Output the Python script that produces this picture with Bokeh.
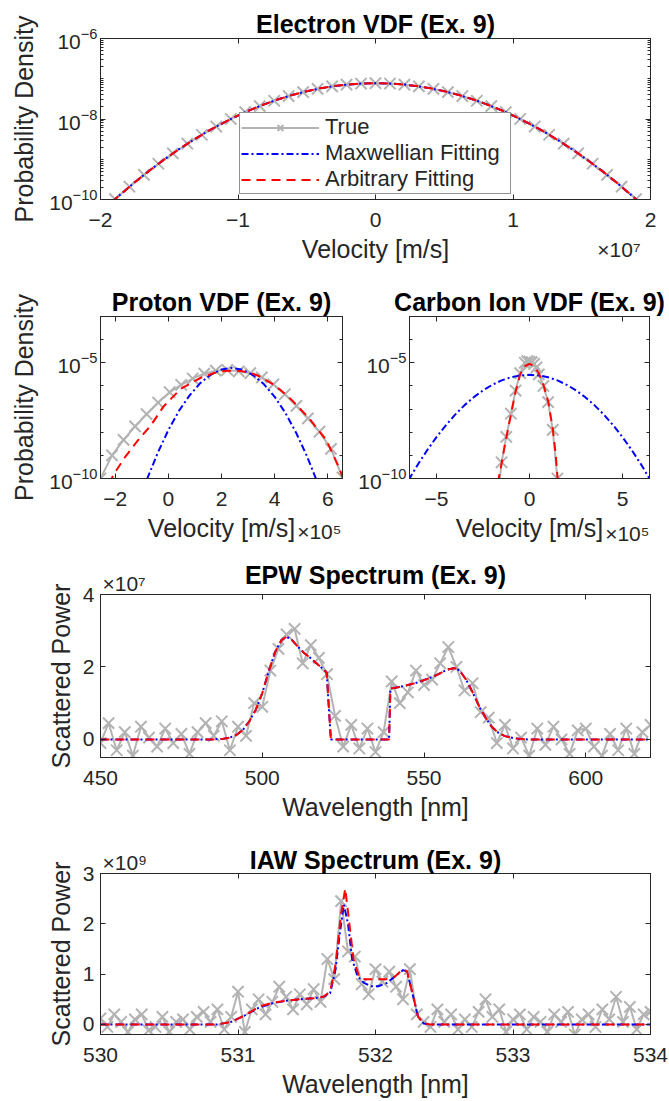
from bokeh.plotting import figure
from bokeh.layouts import column, row
from bokeh.models import (Range1d, LinearAxis, LogAxis, FixedTicker, Legend, LegendItem,
                          Title, CustomJSTickFormatter)
from bokeh.embed import file_html
from bokeh.resources import INLINE

FONT = "Liberation Sans"
INK = "#262626"
GRAY = "#B3B3B3"
BLUE = "#0000FF"
RED = "#FF0000"

# ---------------- data (velocities / powers in units of the axis multiplier) ----------------
electron_true_v = [-2.0, -1.8947, -1.7895, -1.6842, -1.5789, -1.4737, -1.3684, -1.2632, -1.1579,
                   -1.0526, -0.9474, -0.8421, -0.7368, -0.6316, -0.5263, -0.4211, -0.3158, -0.2105,
                   -0.1053, 0.0, 0.1053, 0.2105, 0.3158, 0.4211, 0.5263, 0.6316, 0.7368, 0.8421,
                   0.9474, 1.0526, 1.1579, 1.2632, 1.3684, 1.4737, 1.5789, 1.6842, 1.7895, 1.8947, 2.0]
electron_true_f = [4.76e-11, 1.02e-10, 2.08e-10, 4.09e-10, 7.73e-10, 1.40e-9, 2.43e-9, 4.06e-9,
                   6.50e-9, 1.00e-8, 1.48e-8, 2.09e-8, 2.84e-8, 3.72e-8, 4.66e-8, 5.60e-8, 6.46e-8,
                   7.14e-8, 7.60e-8, 7.76e-8, 7.60e-8, 7.14e-8, 6.46e-8, 5.60e-8, 4.66e-8, 3.72e-8,
                   2.84e-8, 2.09e-8, 1.48e-8, 1.00e-8, 6.50e-9, 4.06e-9, 2.43e-9, 1.40e-9, 7.73e-10,
                   4.09e-10, 2.08e-10, 1.02e-10, 4.76e-11]
electron_fit_v = [-2.0, -1.9, -1.8, -1.7, -1.6, -1.5, -1.4, -1.3, -1.2, -1.1, -1.0, -0.9, -0.8,
                  -0.7, -0.6, -0.5, -0.4, -0.3, -0.2, -0.1, 0.0, 0.1, 0.2, 0.3, 0.4, 0.5, 0.6, 0.7,
                  0.8, 0.9, 1.0, 1.1, 1.2, 1.3, 1.4, 1.5, 1.6, 1.7, 1.8, 1.9, 2.0]
electron_max_f = [4.76e-11, 9.79e-11, 1.94e-10, 3.71e-10, 6.82e-10, 1.21e-9, 2.07e-9, 3.41e-9,
                  5.42e-9, 8.28e-9, 1.22e-8, 1.74e-8, 2.38e-8, 3.14e-8, 3.99e-8, 4.89e-8, 5.78e-8,
                  6.58e-8, 7.21e-8, 7.62e-8, 7.76e-8, 7.62e-8, 7.21e-8, 6.58e-8, 5.78e-8, 4.89e-8,
                  3.99e-8, 3.14e-8, 2.38e-8, 1.74e-8, 1.22e-8, 8.28e-9, 5.42e-9, 3.41e-9, 2.07e-9,
                  1.21e-9, 6.82e-10, 3.71e-10, 1.94e-10, 9.79e-11, 4.76e-11]
electron_arb_f = [4.76e-11, 9.79e-11, 1.94e-10, 3.71e-10, 6.82e-10, 1.21e-9, 2.07e-9, 3.41e-9,
                  5.42e-9, 8.28e-9, 1.22e-8, 1.74e-8, 2.38e-8, 3.14e-8, 3.99e-8, 4.89e-8, 5.78e-8,
                  6.58e-8, 7.21e-8, 7.62e-8, 7.76e-8, 7.62e-8, 7.21e-8, 6.58e-8, 5.78e-8, 4.89e-8,
                  3.99e-8, 3.14e-8, 2.38e-8, 1.74e-8, 1.22e-8, 8.28e-9, 5.42e-9, 3.41e-9, 2.07e-9,
                  1.21e-9, 6.82e-10, 3.71e-10, 1.94e-10, 9.79e-11, 4.76e-11]

proton_true_v = [-2.55, -2.117, -1.683, -1.25, -0.817, -0.383, 0.05, 0.483, 0.917, 1.35, 1.783,
                 2.217, 2.65, 3.083, 3.517, 3.95, 4.383, 4.817, 5.25, 5.683, 6.117, 6.55]
proton_true_f = [1.0e-10, 1.0e-9, 4.68e-9, 1.78e-8, 6.03e-8, 1.91e-7, 5.37e-7, 1.12e-6, 2.09e-6,
                 3.39e-6, 4.57e-6, 4.90e-6, 4.27e-6, 3.55e-6, 2.34e-6, 1.17e-6, 4.37e-7, 1.38e-7,
                 3.98e-8, 1.05e-8, 1.91e-9, 1.12e-10]
proton_max_v = [-0.8, -0.4, 0.0, 0.4, 0.8, 1.2, 1.6, 2.0, 2.38, 2.8, 3.2, 3.6, 4.0, 4.4, 4.8, 5.2, 5.6]
proton_max_f = [9.33e-11, 1.26e-9, 1.23e-8, 8.32e-8, 3.89e-7, 1.32e-6, 3.09e-6, 5.13e-6, 6.03e-6,
                5.01e-6, 2.88e-6, 1.17e-6, 3.39e-7, 6.92e-8, 9.77e-9, 1.00e-9, 7.08e-11]
proton_arb_v = [-2.2, -2.08, -1.63, -1.15, -0.66, -0.18, 0.47, 1.27, 1.7, 2.08, 2.4, 2.72, 3.05,
                3.37, 4.02, 4.66, 5.31, 5.95, 6.43, 6.6]
proton_arb_f = [5.62e-11, 1.35e-10, 8.32e-10, 4.37e-9, 1.95e-8, 1.29e-7, 7.59e-7, 2.40e-6, 3.55e-6,
                4.37e-6, 4.57e-6, 4.37e-6, 3.72e-6, 2.82e-6, 1.05e-6, 2.34e-7, 3.80e-8, 4.37e-9,
                2.82e-10, 7.94e-11]

carbon_true_v = [-1.75, -1.5, -1.25, -1.0, -0.75, -0.5, -0.25, -0.125, 0.0, 0.125, 0.25, 0.375,
                 0.5, 0.75, 1.0, 1.25, 1.5, 1.75]
carbon_true_f = [6.31e-12, 5.01e-10, 6.31e-9, 6.31e-8, 6.31e-7, 3.55e-6, 1.00e-5, 1.17e-5, 1.12e-5,
                 1.07e-5, 8.91e-6, 6.31e-6, 3.16e-6, 1.00e-6, 2.00e-7, 1.26e-8, 1.00e-10, 1.0e-12]
carbon_max_v = [-6.5, -6.0, -5.5, -5.0, -4.5, -4.0, -3.5, -3.0, -2.5, -2.0, -1.5, -1.0, -0.5, 0.0,
                0.5, 1.0, 1.5, 2.0, 2.5, 3.0, 3.5, 4.0, 4.5, 5.0, 5.5, 6.0, 6.5]
carbon_max_f = [8.51e-11, 4.01e-10, 1.67e-9, 6.12e-9, 1.99e-8, 5.71e-8, 1.45e-7, 3.24e-7, 6.41e-7,
                1.12e-6, 1.73e-6, 2.36e-6, 2.84e-6, 3.02e-6, 2.84e-6, 2.36e-6, 1.73e-6, 1.12e-6,
                6.41e-7, 3.24e-7, 1.45e-7, 5.71e-8, 1.99e-8, 6.12e-9, 1.67e-9, 4.01e-10, 8.51e-11]
carbon_arb_v = [-1.7, -1.5, -1.3, -1.0, -0.75, -0.5, -0.25, 0.0, 0.25, 0.5, 0.75, 1.0, 1.25, 1.4, 1.52]
carbon_arb_f = [6.31e-11, 4.47e-10, 3.55e-9, 5.62e-8, 5.62e-7, 3.16e-6, 7.08e-6, 8.91e-6, 7.08e-6,
                3.55e-6, 1.12e-6, 2.24e-7, 1.41e-8, 1.26e-9, 7.94e-11]

epw_true_wl = [450.0, 452.5, 455.0, 457.5, 460.0, 462.5, 465.0, 467.5, 470.0, 472.5, 475.0, 477.5,
               480.0, 482.5, 485.0, 487.5, 490.0, 492.5, 495.0, 497.5, 500.0, 502.5, 505.0, 507.5,
               510.0, 512.5, 515.0, 517.5, 520.0, 522.5, 525.0, 527.5, 530.0, 532.5, 535.0, 537.5,
               540.0, 542.5, 545.0, 547.5, 550.0, 552.5, 555.0, 557.5, 560.0, 562.5, 565.0, 567.5,
               570.0, 572.5, 575.0, 577.5, 580.0, 582.5, 585.0, 587.5, 590.0, 592.5, 595.0, 597.5,
               600.0, 602.5, 605.0, 607.5, 610.0, 612.5, 615.0, 617.5, 620.0]
epw_true_p = [-0.10, 0.45, -0.30, 0.20, -0.45, 0.35, 0.05, -0.20, 0.30, -0.10,
              0.15, -0.40, 0.20, 0.45, 0.10, 0.50, -0.30, 0.35, 0.10, 1.00,
              0.90, 1.90, 2.50, 2.90, 3.05, 2.10, 2.60, 2.25, 1.80, 0.65,
              -0.20, 0.40, -0.25, 0.30, -0.35, 0.20, 1.60, 1.00, 1.30, 1.90,
              1.50, 1.65, 2.10, 2.55, 2.00, 1.35, 1.55, 0.75, 0.60, -0.10,
              0.40, -0.25, 0.05, -0.45, 0.30, -0.15, 0.35, 0.00, -0.40, 0.25,
              0.30, -0.20, -0.45, 0.15, -0.30, 0.30, -0.40, 0.20, 0.40]
epw_fit_wl = [450.0, 485.0, 488.0, 490.0, 492.0, 494.0, 496.0, 498.0, 500.0, 502.0, 504.0, 506.0,
              507.5, 509.0, 511.0, 513.0, 515.0, 517.0, 519.0, 519.9, 521.2, 539.2, 539.6, 542.0,
              545.0, 548.0, 551.0, 554.0, 557.0, 559.5, 561.0, 563.0, 565.0, 567.0, 569.0, 571.0,
              573.0, 575.0, 578.0, 582.0, 620.0]
epw_max_p = [0.0, 0.0, 0.02, 0.05, 0.12, 0.26, 0.50, 0.82, 1.28, 1.88, 2.42, 2.75, 2.83, 2.76, 2.56,
             2.38, 2.24, 2.08, 1.93, 1.85, 0.0, 0.0, 1.40, 1.44, 1.50, 1.57, 1.67, 1.78, 1.92, 1.97,
             1.90, 1.65, 1.30, 0.92, 0.60, 0.34, 0.18, 0.09, 0.03, 0.0, 0.0]
epw_arb_p = [0.0, 0.0, 0.02, 0.05, 0.12, 0.26, 0.50, 0.82, 1.28, 1.88, 2.42, 2.75, 2.83, 2.76, 2.56,
             2.38, 2.24, 2.08, 1.93, 1.85, 0.0, 0.0, 1.40, 1.44, 1.50, 1.57, 1.67, 1.78, 1.92, 1.97,
             1.90, 1.65, 1.30, 0.92, 0.60, 0.34, 0.18, 0.09, 0.03, 0.0, 0.0]

iaw_true_wl = [530.00, 530.05, 530.10, 530.15, 530.20, 530.25, 530.30, 530.35, 530.40, 530.45,
               530.50, 530.55, 530.60, 530.65, 530.70, 530.75, 530.80, 530.85, 530.90, 530.95,
               531.00, 531.05, 531.10, 531.15, 531.20, 531.25, 531.30, 531.35, 531.40, 531.45,
               531.50, 531.55, 531.60, 531.65, 531.70, 531.75, 531.80, 531.85, 531.90, 531.95,
               532.00, 532.05, 532.10, 532.15, 532.20, 532.25, 532.30, 532.35, 532.40, 532.45,
               532.50, 532.55, 532.60, 532.65, 532.70, 532.75, 532.80, 532.85, 532.90, 532.95,
               533.00, 533.05, 533.10, 533.15, 533.20, 533.25, 533.30, 533.35, 533.40, 533.45,
               533.50, 533.55, 533.60, 533.65, 533.70, 533.75, 533.80, 533.85, 533.90, 533.95, 534.00]
iaw_true_p = [0.12, -0.05, 0.20, 0.05, -0.15, 0.10, 0.20, -0.12, -0.05, 0.15,
              -0.15, 0.05, 0.10, -0.10, 0.15, 0.25, 0.05, 0.30, -0.10, 0.15,
              0.65, -0.15, 0.30, 0.50, 0.20, 0.45, 0.75, 0.55, 0.30, 0.60,
              0.40, 0.70, 0.45, 1.30, 0.90, 2.45, 1.45, 1.35, 0.80, 0.60,
              1.10, 0.85, 1.05, 0.75, 0.50, 1.10, 0.20, 0.05, -0.05, 0.30,
              0.05, 0.20, -0.10, 0.10, -0.05, 0.25, 0.50, 0.15, 0.30, -0.15,
              0.10, 0.20, -0.10, 0.15, 0.05, -0.15, 0.20, 0.05, 0.25, -0.20,
              0.10, 0.20, -0.05, 0.30, 0.10, 0.55, 0.05, 0.35, -0.10, 0.20, 0.25]
iaw_max_wl = [530.0, 530.85, 530.95, 531.05, 531.15, 531.25, 531.35, 531.45, 531.55, 531.62, 531.67,
              531.71, 531.74, 531.77, 531.80, 531.83, 531.87, 531.92, 531.97, 532.02, 532.08,
              532.14, 532.20, 532.23, 532.27, 532.31, 532.35, 532.40, 534.0]
iaw_max_p = [0.0, 0.0, 0.05, 0.18, 0.33, 0.42, 0.47, 0.50, 0.52, 0.55, 0.62, 1.10, 1.80, 2.38, 2.00,
             1.30, 0.95, 0.82, 0.76, 0.76, 0.82, 0.95, 1.08, 1.05, 0.60, 0.15, 0.02, 0.0, 0.0]
iaw_arb_wl = [530.0, 530.85, 530.95, 531.05, 531.15, 531.25, 531.35, 531.45, 531.55, 531.62, 531.67,
              531.71, 531.75, 531.78, 531.81, 531.84, 531.88, 531.92, 531.97, 532.02, 532.08,
              532.14, 532.20, 532.23, 532.27, 532.31, 532.35, 532.40, 534.0]
iaw_arb_p = [0.0, 0.0, 0.05, 0.18, 0.35, 0.43, 0.47, 0.50, 0.52, 0.55, 0.65, 1.20, 2.20, 2.70, 2.00,
             1.30, 0.95, 0.90, 0.90, 0.90, 0.90, 0.95, 1.10, 1.05, 0.60, 0.15, 0.02, 0.0, 0.0]

# tick positions
electron_xticks = [-2, -1, 0, 1, 2]
electron_yticks = [1e-10, 1e-8, 1e-6]
proton_xticks = [-2, 0, 2, 4, 6]
carbon_xticks = [-5, 0, 5]
ion_yticks = [1e-10, 1e-5]
epw_xticks = [450, 500, 550, 600]
epw_yticks = [0, 2, 4]
iaw_xticks = [530, 531, 532, 533, 534]
iaw_yticks = [0, 1, 2, 3]

electron_yminor = [m * 10.0 ** d for d in range(-10, -6) for m in range(2, 10)] + [1e-9, 1e-7]
ion_yminor = [10.0 ** d for d in (-9, -8, -7, -6, -4, -3)]

BLANK = "return ''"


def make_fig(title, xr, yr, ylog, fw, fh, bl, br, bt, bb):
    p = figure(width=bl + fw + br, height=bt + fh + bb, frame_width=fw, frame_height=fh,
               x_range=Range1d(*xr), y_range=Range1d(*yr),
               y_axis_type="log" if ylog else "linear",
               output_backend="svg", toolbar_location=None,
               min_border_left=bl, min_border_right=br, min_border_top=bt, min_border_bottom=bb,
               title=title)
    p.grid.visible = False
    p.outline_line_color = INK
    p.outline_line_width = 1
    p.background_fill_color = "white"
    p.border_fill_color = "white"
    if title is not None:
        p.title.align = "center"
        p.title.text_font = FONT
        p.title.text_font_size = "25px"
        p.title.text_font_style = "bold"
        p.title.text_color = "black"
        p.title.standoff = 2
    return p


def style_axis(ax, ticks, minor=None, label=None, tick_standoff=13, label_standoff=5):
    ax.ticker = FixedTicker(ticks=ticks, minor_ticks=minor or [])
    ax.axis_line_color = INK
    ax.major_tick_in = 5
    ax.major_tick_out = 0
    ax.minor_tick_in = 3
    ax.minor_tick_out = 0
    ax.major_tick_line_color = INK
    ax.minor_tick_line_color = INK
    ax.major_label_text_font = FONT
    ax.major_label_text_font_size = "21px"
    ax.major_label_text_color = INK
    ax.major_label_standoff = tick_standoff
    ax.axis_label = label
    ax.axis_label_text_font = FONT
    ax.axis_label_text_font_size = "25px"
    ax.axis_label_text_font_style = "normal"
    ax.axis_label_text_color = INK
    ax.axis_label_standoff = label_standoff


def add_mirrors(p, xticks, yticks, ylog, yminor=None):
    top = LinearAxis(formatter=CustomJSTickFormatter(code=BLANK))
    style_axis(top, xticks, tick_standoff=0)
    top.major_label_text_font_size = "1px"
    p.add_layout(top, "above")
    right = (LogAxis if ylog else LinearAxis)(formatter=CustomJSTickFormatter(code=BLANK))
    style_axis(right, yticks, yminor, tick_standoff=0)
    right.major_label_text_font_size = "1px"
    p.add_layout(right, "right")


def text_title(text, align, offset, standoff, valign, size, bold=False):
    t = Title(text=text, align=align, offset=offset, vertical_align=valign,
              text_font=FONT, text_font_size=size,
              text_font_style="bold" if bold else "normal",
              text_color="black" if bold else INK)
    try:
        t.standoff = standoff
    except Exception:
        t.standoff = 0
    return t


def draw(p, tx, ty, mx, my, ax_, ay):
    lt = p.line(tx, ty, line_color=GRAY, line_width=2)
    st = p.scatter(tx, ty, marker="x", size=16, line_color=GRAY, line_width=2)
    lm = p.line(mx, my, line_color=BLUE, line_width=2, line_dash="7 3 2 3")
    la = p.line(ax_, ay, line_color=RED, line_width=2, line_dash="9 6")
    return lt, st, lm, la


# ---------------- Electron ----------------
pe = make_fig("Electron VDF (Ex. 9)", (-2, 2), (1e-10, 1e-6), True, 550, 161, 100, 19, 38, 73)
style_axis(pe.below[0], electron_xticks, label="Velocity [m/s]")
style_axis(pe.left[0], electron_yticks, electron_yminor, label="Probability Density",
           tick_standoff=3, label_standoff=8)
add_mirrors(pe, electron_xticks, electron_yticks, True, electron_yminor)
lt, st, lm, la = draw(pe, electron_true_v, electron_true_f, electron_fit_v, electron_max_f,
                      electron_fit_v, electron_arb_f)
leg = Legend(items=[LegendItem(label="True", renderers=[lt, st]),
                    LegendItem(label="Maxwellian Fitting", renderers=[lm]),
                    LegendItem(label="Arbitrary Fitting", renderers=[la])],
             location=(139, 5), orientation="vertical")
leg.label_text_font = FONT
leg.label_text_font_size = "22px"
leg.label_text_color = INK
leg.glyph_width = 78
leg.glyph_height = 21
leg.label_height = 21
leg.label_width = 184
leg.label_standoff = 6
leg.padding = 1
leg.spacing = 0
leg.margin = 0
leg.border_line_color = INK
leg.border_line_width = 1
leg.background_fill_color = "white"
leg.background_fill_alpha = 1
pe.add_layout(leg)
pe.add_layout(text_title("\u00d710\u2077", "right", 10, -55, "top", "21px"), "below")

# ---------------- Proton ----------------
pp = make_fig("Proton VDF (Ex. 9)", (-2.55, 6.55), (1e-10, 1e-3), True, 242, 162, 100, 5, 44, 82)
style_axis(pp.below[0], proton_xticks, label="Velocity [m/s]")
style_axis(pp.left[0], ion_yticks, ion_yminor, label="Probability Density", tick_standoff=3,
           label_standoff=8)
add_mirrors(pp, proton_xticks, ion_yticks, True, ion_yminor)
draw(pp, proton_true_v, proton_true_f, proton_max_v, proton_max_f, proton_arb_v, proton_arb_f)
pp.add_layout(text_title("\u00d710\u2075", "right", 1, -49, "top", "21px"), "below")

# ---------------- Carbon ----------------
pc = make_fig("Carbon Ion VDF (Ex. 9)", (-6.45, 6.45), (1e-10, 1e-3), True, 240, 162, 62, 20, 44, 82)
style_axis(pc.below[0], carbon_xticks, label="Velocity [m/s]")
style_axis(pc.left[0], ion_yticks, ion_yminor, tick_standoff=3)
add_mirrors(pc, carbon_xticks, ion_yticks, True, ion_yminor)
draw(pc, carbon_true_v, carbon_true_f, carbon_max_v, carbon_max_f, carbon_arb_v, carbon_arb_f)
pc.add_layout(text_title("\u00d710\u2075", "right", 0, -45, "top", "21px"), "below")

# ---------------- EPW ----------------
pw = make_fig(None, (450, 620), (-0.5, 4), False, 550, 163, 100, 19, 34, 71)
style_axis(pw.below[0], epw_xticks, label="Wavelength [nm]")
style_axis(pw.left[0], epw_yticks, label="Scattered Power", tick_standoff=6, label_standoff=5)
add_mirrors(pw, epw_xticks, epw_yticks, False)
draw(pw, epw_true_wl, epw_true_p, epw_fit_wl, epw_max_p, epw_fit_wl, epw_arb_p)
pw.add_layout(text_title("\u00d710\u2077", "left", 2, -2, "middle", "21px"), "above")
pw.add_layout(text_title("EPW Spectrum (Ex. 9)", "center", 0, -34, "bottom", "25px",
                         bold=True), "above")

# ---------------- IAW ----------------
pi = make_fig(None, (530, 534), (-0.2, 3), False, 550, 161, 100, 19, 45, 67)
style_axis(pi.below[0], iaw_xticks, label="Wavelength [nm]")
style_axis(pi.left[0], iaw_yticks, label="Scattered Power", tick_standoff=6, label_standoff=5)
add_mirrors(pi, iaw_xticks, iaw_yticks, False)
draw(pi, iaw_true_wl, iaw_true_p, iaw_max_wl, iaw_max_p, iaw_arb_wl, iaw_arb_p)
pi.add_layout(text_title("\u00d710\u2079", "left", 2, -2, "middle", "21px"), "above")
pi.add_layout(text_title("IAW Spectrum (Ex. 9)", "center", 0, -46, "bottom", "25px",
                         bold=True), "above")

layout = column(pe, row(pp, pc, spacing=0), pw, pi, spacing=0)
open("out.html", "w").write(file_html(layout, INLINE))
